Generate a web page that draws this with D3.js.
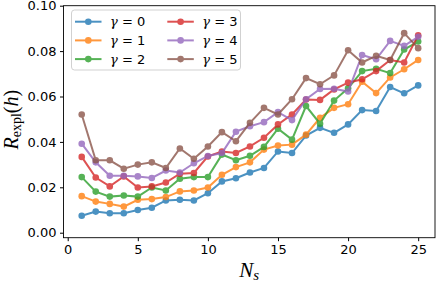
<!DOCTYPE html>
<html lang="en">
<head>
<meta charset="utf-8">
<script src="https://cdnjs.cloudflare.com/ajax/libs/d3/7.8.5/d3.min.js"></script>
<style>
  body { margin: 0; background: #fff; }
  .tick text { font-family: "DejaVu Sans", sans-serif; font-size: 13px; fill: #000; }
  .tick line { stroke: #000; }
</style>
</head>
<body>
<script>
// ---- data
var ns = d3.range(1, 26);
var gammas = [0, 1, 2, 3, 4, 5];
var colors = ["#1f77b4", "#ff7f0e", "#2ca02c", "#d62728", "#9467bd", "#8c564b"];

var g0 = [0.0075,0.0093,0.0086,0.0086,0.0100,0.0110,0.0142,0.0145,0.0142,0.0174,0.0226,0.0240,0.0265,0.0285,0.0358,0.0351,0.0428,0.0462,0.0440,0.0477,0.0540,0.0536,0.0642,0.0614,0.0649];
var g1 = [0.0161,0.0137,0.0127,0.0115,0.0145,0.0148,0.0157,0.0182,0.0186,0.0199,0.0255,0.0289,0.0310,0.0366,0.0384,0.0388,0.0432,0.0506,0.0550,0.0566,0.0665,0.0615,0.0684,0.0720,0.0761];
var g2 = [0.0245,0.0181,0.0159,0.0164,0.0159,0.0199,0.0186,0.0238,0.0245,0.0245,0.0344,0.0319,0.0339,0.0378,0.0458,0.0410,0.0558,0.0480,0.0582,0.0636,0.0712,0.0722,0.0703,0.0807,0.0842];
var g3 = [0.0334,0.0243,0.0204,0.0248,0.0199,0.0204,0.0221,0.0260,0.0263,0.0336,0.0358,0.0351,0.0380,0.0418,0.0477,0.0521,0.0587,0.0585,0.0631,0.0661,0.0676,0.0712,0.0761,0.0750,0.0870];
var g4 = [0.0392,0.0310,0.0251,0.0251,0.0248,0.0241,0.0274,0.0265,0.0306,0.0338,0.0351,0.0445,0.0469,0.0487,0.0531,0.0496,0.0588,0.0633,0.0634,0.0622,0.0783,0.0764,0.0845,0.0823,0.0863];
var g5 = [0.0521,0.0319,0.0319,0.0282,0.0300,0.0310,0.0285,0.0371,0.0326,0.0380,0.0443,0.0403,0.0484,0.0550,0.0521,0.0588,0.0681,0.0654,0.0693,0.0804,0.0750,0.0779,0.0761,0.0879,0.0813];
var series = [g0, g1, g2, g3, g4, g5];

var xTicks = [0, 5, 10, 15, 20, 25];
var yTicks = [0.00, 0.02, 0.04, 0.06, 0.08, 0.10];

var W = 436, H = 282;
var pL = 63.5, pR = 435, pT = 5.7, pB = 237.7;

var x = d3.scaleLinear().domain([-0.3, 26.2]).range([pL, pR]);
var y = d3.scaleLinear().domain([-0.0022, 0.10]).range([pB, pT]);

var svg = d3.select("body").append("svg")
    .attr("width", W)
    .attr("height", H);

// axes
svg.append("g")
    .attr("transform", "translate(0," + pB + ")")
    .call(d3.axisBottom(x).tickValues(xTicks).tickSize(3.5).tickPadding(3.5).tickFormat(d3.format("d")))
    .call(function(g) { g.select(".domain").remove(); });

svg.append("g")
    .attr("transform", "translate(" + pL + ",0)")
    .call(d3.axisLeft(y).tickValues(yTicks).tickSize(3.5).tickPadding(3.5).tickFormat(d3.format(".2f")))
    .call(function(g) { g.select(".domain").remove(); });

// lines + markers
var line = d3.line()
    .x(function(d, i) { return x(ns[i]); })
    .y(function(d) { return y(d); });

var plot = svg.append("g");
series.forEach(function(s, k) {
  var g = plot.append("g").attr("opacity", 0.8);
  g.append("path")
      .attr("d", line(s))
      .attr("fill", "none")
      .attr("stroke", colors[k])
      .attr("stroke-width", 2);
  g.selectAll("circle")
      .data(s)
      .enter().append("circle")
      .attr("cx", function(d, i) { return x(ns[i]); })
      .attr("cy", function(d) { return y(d); })
      .attr("r", 3.3)
      .attr("fill", colors[k]);
});

// frame
svg.append("rect")
    .attr("x", pL).attr("y", pT)
    .attr("width", pR - pL).attr("height", pB - pT)
    .attr("fill", "none")
    .attr("stroke", "#000")
    .attr("stroke-width", 0.9);

// legend
var leg = svg.append("g");
leg.append("rect")
    .attr("x", 71.5).attr("y", 10)
    .attr("width", 169).attr("height", 60)
    .attr("rx", 3)
    .attr("fill", "#fff").attr("fill-opacity", 0.8)
    .attr("stroke", "#ccc").attr("stroke-width", 0.9);

gammas.forEach(function(gm, k) {
  var col = Math.floor(k / 3), row = k % 3;
  var lx = col === 0 ? 75 : 167.3;
  var ly = 21.7 + row * 18.7;
  var item = leg.append("g");
  var mk = item.append("g").attr("opacity", 0.8);
  mk.append("line")
      .attr("x1", lx).attr("x2", lx + 26.5)
      .attr("y1", ly).attr("y2", ly)
      .attr("stroke", colors[k]).attr("stroke-width", 2);
  mk.append("circle")
      .attr("cx", lx + 13.3).attr("cy", ly)
      .attr("r", 3.3).attr("fill", colors[k]);
  var t = item.append("text")
      .attr("x", lx + 35)
      .attr("y", ly + 4.6)
      .style("font-size", "13px");
  t.append("tspan")
      .style("font-family", "'DejaVu Serif', serif")
      .style("font-style", "italic")
      .text("\u03b3");
  t.append("tspan")
      .style("font-family", "'DejaVu Sans', sans-serif")
      .text(" = " + gm);
});

// x label
var xl = svg.append("text")
    .attr("x", (pL + pR) / 2)
    .attr("y", 277)
    .attr("text-anchor", "middle")
    .style("font-family", "'Liberation Serif', serif");
xl.append("tspan").style("font-style", "italic").style("font-size", "21px").text("N");
xl.append("tspan").style("font-style", "italic").style("font-size", "15px").attr("dy", 3).text("s");

// y label
var yl = svg.append("text")
    .attr("transform", "translate(18," + ((pT + pB) / 2 - 2) + ") rotate(-90)")
    .attr("text-anchor", "middle")
    .style("font-family", "'Liberation Serif', serif")
    .style("font-size", "20px");
yl.append("tspan").style("font-style", "italic").text("R");
yl.append("tspan").style("font-size", "14px").attr("dy", 3).text("expl");
yl.append("tspan").attr("dy", -3).text("(");
yl.append("tspan").style("font-style", "italic").text("h");
yl.append("tspan").text(")");
</script>
</body>
</html>
